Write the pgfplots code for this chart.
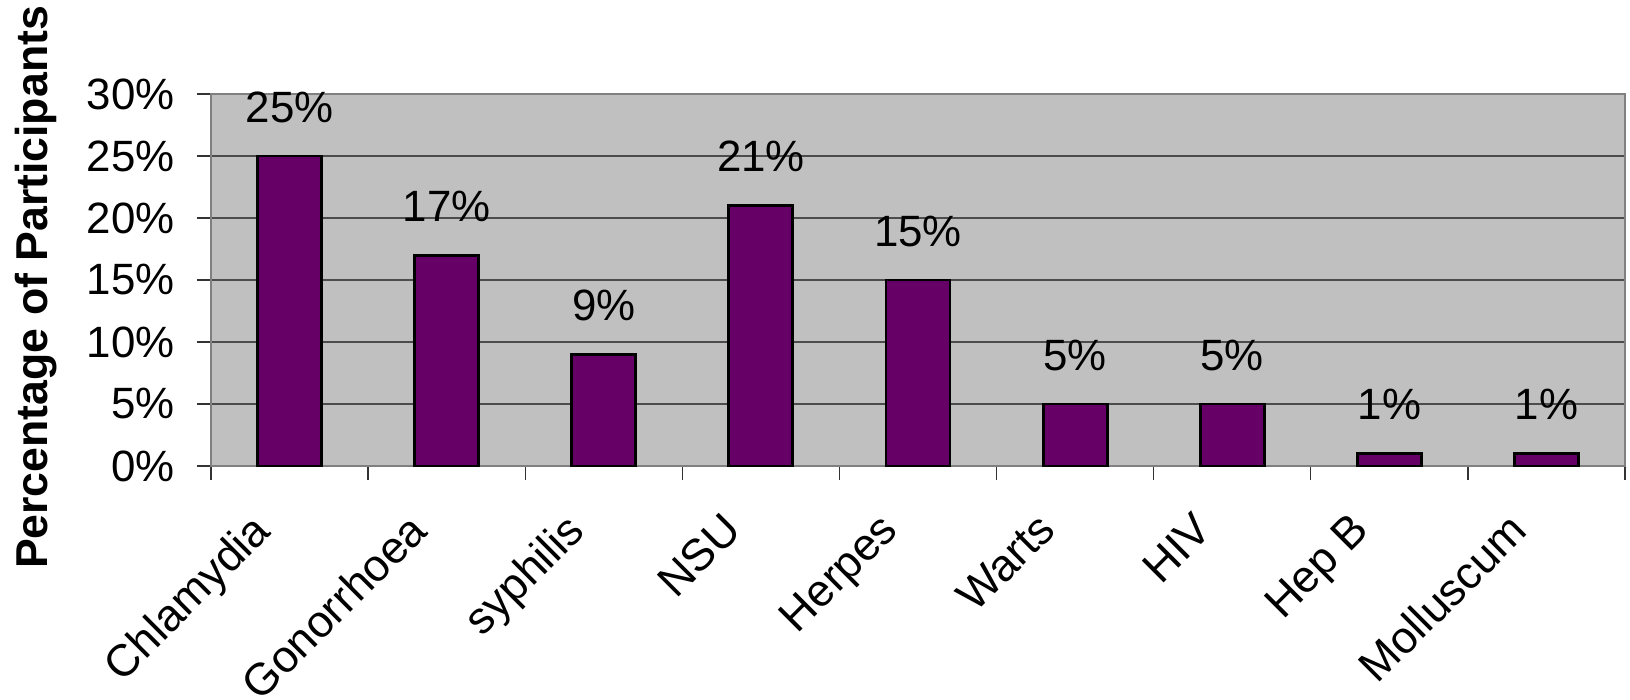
\documentclass[border=0pt]{standalone}
\usepackage{fontspec}
\setmainfont{Liberation Sans}
\usepackage{pgfplots}
\pgfplotsset{compat=1.18}
\definecolor{barfill}{HTML}{660066}
\definecolor{plotbg}{HTML}{C0C0C0}
\definecolor{frame}{HTML}{808080}
\begin{document}
\begin{tikzpicture}
\begin{axis}[
  name=ax,
  scale only axis,
  width=707bp, height=186bp,
  xmin=-0.5, xmax=8.5,
  ymin=0, ymax=30,
  axis background/.style={fill=plotbg},
  axis line style={draw=frame, line width=1bp},
  ytick={0,5,...,30},
  yticklabel={\pgfmathprintnumber{\tick}\%},
  /pgf/number format/assume math mode=true,
  xtick={-0.5,0.5,...,8.5},
  xticklabels={},
  extra x ticks={0,...,8},
  extra x tick labels={Chlamydia,Gonorrhoea,syphilis,NSU,Herpes,Warts,HIV,Hep B,Molluscum},
  extra x tick style={major tick length=0pt, grid=none,
    tick label style={anchor=north east, xshift=-20bp, yshift=-20.5bp, rotate=45, inner sep=1bp, font=\fontsize{22.5}{26}\selectfont}},
  tick align=outside,
  tick pos=left,
  major tick length=7bp,
  tick style={draw=black!80, line width=0.7bp},
  ymajorgrids,
  grid style={draw=black!70, line width=0.6bp},
  tick label style={font=\fontsize{22}{26}\selectfont, text=black},
  yticklabel style={inner sep=0pt, xshift=-11bp},
  every axis y label/.style={at={(rel axis cs:0,0.48)}, anchor=center, xshift=-87.5bp, rotate=90},
  ylabel={\fontsize{22.4}{26}\selectfont\bfseries Percentage of Participants},
  clip=false,
  nodes near coords={\pgfmathprintnumber{\pgfplotspointmeta}\%},
  every node near coord/.append style={font=\fontsize{22}{26}\selectfont, anchor=south, inner sep=0pt, yshift=16bp, text=black},
]
\addplot[ybar, bar width=32bp, fill=barfill, draw=black, line width=1.4bp] coordinates {
  (0,25) (1,17) (2,9) (3,21) (4,15) (5,5) (6,5) (7,1) (8,1)
};
\end{axis}
\pgfresetboundingbox
\path ([xshift=-105.5bp,yshift=-117bp]ax.south west) rectangle ([xshift=2.5bp,yshift=47bp]ax.north east);
\end{tikzpicture}
\end{document}
